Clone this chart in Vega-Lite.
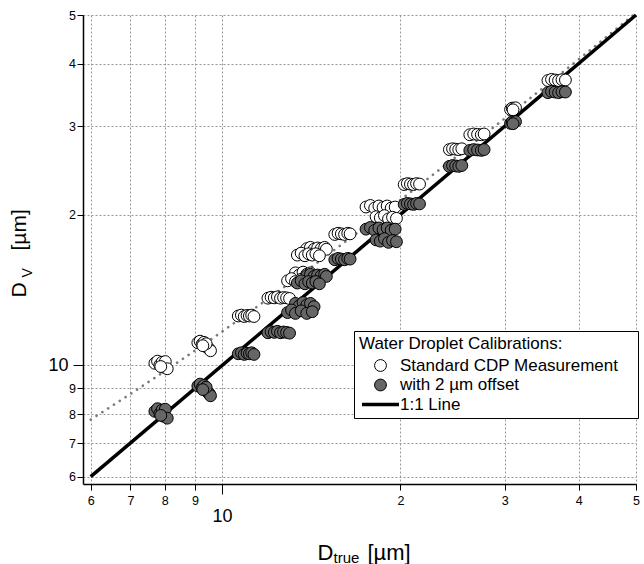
{
  "$schema": "https://vega.github.io/schema/vega-lite/v6.json",
  "width": 553,
  "height": 469,
  "autosize": {"type": "none"},
  "padding": {"left": 83, "top": 15, "right": 8, "bottom": 80},
  "background": "white",
  "config": {
    "font": "Liberation Sans",
    "view": {"stroke": null},
    "axis": {"titleFontWeight": "normal", "titleColor": "black", "titleFont": "Liberation Sans", "labelFont": "Liberation Sans", "labelColor": "black"},
    "legend": {
      "orient": "none", "legendX": 271, "legendY": 316,
      "titleFontSize": 17, "titleFontWeight": "normal", "titleColor": "black", "titleFont": "Liberation Sans", "titlePadding": 4, "titleLimit": 400,
      "labelFontSize": 17, "labelColor": "black", "labelFont": "Liberation Sans", "labelOffset": 11, "labelLimit": 400,
      "strokeColor": "black", "fillColor": "white", "padding": 5, "rowPadding": 1.5,
      "symbolSize": 140, "symbolOffset": 13
    }
  },
  "datasets": {
    "pts": [
      {"series": "Standard CDP Measurement", "x": 7.70, "y": 10.10},
      {"series": "Standard CDP Measurement", "x": 7.78, "y": 10.20},
      {"series": "Standard CDP Measurement", "x": 7.85, "y": 10.02},
      {"series": "Standard CDP Measurement", "x": 7.92, "y": 10.15},
      {"series": "Standard CDP Measurement", "x": 7.97, "y": 9.92},
      {"series": "Standard CDP Measurement", "x": 8.02, "y": 10.18},
      {"series": "Standard CDP Measurement", "x": 8.08, "y": 9.85},
      {"series": "Standard CDP Measurement", "x": 7.88, "y": 9.95},
      {"series": "Standard CDP Measurement", "x": 9.10, "y": 11.10},
      {"series": "Standard CDP Measurement", "x": 9.18, "y": 11.18},
      {"series": "Standard CDP Measurement", "x": 9.25, "y": 11.02},
      {"series": "Standard CDP Measurement", "x": 9.32, "y": 11.12},
      {"series": "Standard CDP Measurement", "x": 9.38, "y": 10.92},
      {"series": "Standard CDP Measurement", "x": 9.45, "y": 10.85},
      {"series": "Standard CDP Measurement", "x": 9.52, "y": 10.78},
      {"series": "Standard CDP Measurement", "x": 9.56, "y": 10.70},
      {"series": "Standard CDP Measurement", "x": 9.40, "y": 11.05},
      {"series": "Standard CDP Measurement", "x": 9.28, "y": 10.95},
      {"series": "Standard CDP Measurement", "x": 10.65, "y": 12.55},
      {"series": "Standard CDP Measurement", "x": 10.78, "y": 12.60},
      {"series": "Standard CDP Measurement", "x": 10.90, "y": 12.52},
      {"series": "Standard CDP Measurement", "x": 11.02, "y": 12.58},
      {"series": "Standard CDP Measurement", "x": 11.12, "y": 12.55},
      {"series": "Standard CDP Measurement", "x": 11.22, "y": 12.60},
      {"series": "Standard CDP Measurement", "x": 11.32, "y": 12.52},
      {"series": "Standard CDP Measurement", "x": 11.95, "y": 13.62},
      {"series": "Standard CDP Measurement", "x": 12.10, "y": 13.68},
      {"series": "Standard CDP Measurement", "x": 12.25, "y": 13.64},
      {"series": "Standard CDP Measurement", "x": 12.40, "y": 13.70},
      {"series": "Standard CDP Measurement", "x": 12.55, "y": 13.62},
      {"series": "Standard CDP Measurement", "x": 12.70, "y": 13.66},
      {"series": "Standard CDP Measurement", "x": 12.85, "y": 13.64},
      {"series": "Standard CDP Measurement", "x": 13.00, "y": 13.60},
      {"series": "Standard CDP Measurement", "x": 13.9, "y": 17.1},
      {"series": "Standard CDP Measurement", "x": 14.1, "y": 17.2},
      {"series": "Standard CDP Measurement", "x": 14.3, "y": 17.05},
      {"series": "Standard CDP Measurement", "x": 14.5, "y": 17.15},
      {"series": "Standard CDP Measurement", "x": 14.7, "y": 17.1},
      {"series": "Standard CDP Measurement", "x": 14.9, "y": 17.2},
      {"series": "Standard CDP Measurement", "x": 15.0, "y": 17.05},
      {"series": "Standard CDP Measurement", "x": 13.4, "y": 16.6},
      {"series": "Standard CDP Measurement", "x": 13.6, "y": 16.75},
      {"series": "Standard CDP Measurement", "x": 13.8, "y": 16.55},
      {"series": "Standard CDP Measurement", "x": 14.0, "y": 16.7},
      {"series": "Standard CDP Measurement", "x": 14.2, "y": 16.6},
      {"series": "Standard CDP Measurement", "x": 14.4, "y": 16.7},
      {"series": "Standard CDP Measurement", "x": 14.6, "y": 16.55},
      {"series": "Standard CDP Measurement", "x": 13.3, "y": 15.3},
      {"series": "Standard CDP Measurement", "x": 13.5, "y": 15.15},
      {"series": "Standard CDP Measurement", "x": 13.7, "y": 15.35},
      {"series": "Standard CDP Measurement", "x": 13.9, "y": 15.2},
      {"series": "Standard CDP Measurement", "x": 14.1, "y": 15.3},
      {"series": "Standard CDP Measurement", "x": 14.3, "y": 15.1},
      {"series": "Standard CDP Measurement", "x": 12.9, "y": 14.75},
      {"series": "Standard CDP Measurement", "x": 13.1, "y": 14.9},
      {"series": "Standard CDP Measurement", "x": 13.3, "y": 14.7},
      {"series": "Standard CDP Measurement", "x": 13.6, "y": 14.85},
      {"series": "Standard CDP Measurement", "x": 13.9, "y": 14.7},
      {"series": "Standard CDP Measurement", "x": 14.2, "y": 14.8},
      {"series": "Standard CDP Measurement", "x": 15.5, "y": 18.25},
      {"series": "Standard CDP Measurement", "x": 15.7, "y": 18.35},
      {"series": "Standard CDP Measurement", "x": 15.9, "y": 18.3},
      {"series": "Standard CDP Measurement", "x": 16.1, "y": 18.25},
      {"series": "Standard CDP Measurement", "x": 16.3, "y": 18.35},
      {"series": "Standard CDP Measurement", "x": 16.45, "y": 18.3},
      {"series": "Standard CDP Measurement", "x": 17.5, "y": 20.7},
      {"series": "Standard CDP Measurement", "x": 17.8, "y": 20.85},
      {"series": "Standard CDP Measurement", "x": 18.1, "y": 20.6},
      {"series": "Standard CDP Measurement", "x": 18.4, "y": 20.8},
      {"series": "Standard CDP Measurement", "x": 18.7, "y": 20.65},
      {"series": "Standard CDP Measurement", "x": 19.0, "y": 20.8},
      {"series": "Standard CDP Measurement", "x": 19.3, "y": 20.6},
      {"series": "Standard CDP Measurement", "x": 19.6, "y": 20.7},
      {"series": "Standard CDP Measurement", "x": 18.2, "y": 19.8},
      {"series": "Standard CDP Measurement", "x": 18.5, "y": 19.7},
      {"series": "Standard CDP Measurement", "x": 18.8, "y": 19.9},
      {"series": "Standard CDP Measurement", "x": 19.1, "y": 19.6},
      {"series": "Standard CDP Measurement", "x": 19.4, "y": 19.75},
      {"series": "Standard CDP Measurement", "x": 19.7, "y": 19.65},
      {"series": "Standard CDP Measurement", "x": 20.3, "y": 22.95},
      {"series": "Standard CDP Measurement", "x": 20.55, "y": 23.05},
      {"series": "Standard CDP Measurement", "x": 20.8, "y": 23.0},
      {"series": "Standard CDP Measurement", "x": 21.05, "y": 22.95},
      {"series": "Standard CDP Measurement", "x": 21.3, "y": 23.05},
      {"series": "Standard CDP Measurement", "x": 21.55, "y": 23.0},
      {"series": "Standard CDP Measurement", "x": 24.2, "y": 26.95},
      {"series": "Standard CDP Measurement", "x": 24.5, "y": 27.05},
      {"series": "Standard CDP Measurement", "x": 24.8, "y": 27.0},
      {"series": "Standard CDP Measurement", "x": 25.1, "y": 26.95},
      {"series": "Standard CDP Measurement", "x": 25.4, "y": 27.05},
      {"series": "Standard CDP Measurement", "x": 26.2, "y": 28.85},
      {"series": "Standard CDP Measurement", "x": 26.6, "y": 28.95},
      {"series": "Standard CDP Measurement", "x": 27.0, "y": 28.9},
      {"series": "Standard CDP Measurement", "x": 27.4, "y": 28.85},
      {"series": "Standard CDP Measurement", "x": 27.7, "y": 28.95},
      {"series": "Standard CDP Measurement", "x": 30.7, "y": 32.4},
      {"series": "Standard CDP Measurement", "x": 30.9, "y": 32.6},
      {"series": "Standard CDP Measurement", "x": 31.1, "y": 32.5},
      {"series": "Standard CDP Measurement", "x": 31.3, "y": 32.65},
      {"series": "Standard CDP Measurement", "x": 31.0, "y": 32.35},
      {"series": "Standard CDP Measurement", "x": 35.5, "y": 37.0},
      {"series": "Standard CDP Measurement", "x": 36.0, "y": 37.2},
      {"series": "Standard CDP Measurement", "x": 36.5, "y": 37.1},
      {"series": "Standard CDP Measurement", "x": 37.0, "y": 37.0},
      {"series": "Standard CDP Measurement", "x": 37.5, "y": 37.15},
      {"series": "Standard CDP Measurement", "x": 38.0, "y": 37.1},
      {"series": "with 2 µm offset", "x": 7.70, "y": 8.10},
      {"series": "with 2 µm offset", "x": 7.78, "y": 8.20},
      {"series": "with 2 µm offset", "x": 7.85, "y": 8.02},
      {"series": "with 2 µm offset", "x": 7.92, "y": 8.15},
      {"series": "with 2 µm offset", "x": 7.97, "y": 7.92},
      {"series": "with 2 µm offset", "x": 8.02, "y": 8.18},
      {"series": "with 2 µm offset", "x": 8.08, "y": 7.85},
      {"series": "with 2 µm offset", "x": 7.88, "y": 7.95},
      {"series": "with 2 µm offset", "x": 9.10, "y": 9.10},
      {"series": "with 2 µm offset", "x": 9.18, "y": 9.18},
      {"series": "with 2 µm offset", "x": 9.25, "y": 9.02},
      {"series": "with 2 µm offset", "x": 9.32, "y": 9.12},
      {"series": "with 2 µm offset", "x": 9.38, "y": 8.92},
      {"series": "with 2 µm offset", "x": 9.45, "y": 8.85},
      {"series": "with 2 µm offset", "x": 9.52, "y": 8.78},
      {"series": "with 2 µm offset", "x": 9.56, "y": 8.70},
      {"series": "with 2 µm offset", "x": 9.40, "y": 9.05},
      {"series": "with 2 µm offset", "x": 9.28, "y": 8.95},
      {"series": "with 2 µm offset", "x": 10.65, "y": 10.55},
      {"series": "with 2 µm offset", "x": 10.78, "y": 10.60},
      {"series": "with 2 µm offset", "x": 10.90, "y": 10.52},
      {"series": "with 2 µm offset", "x": 11.02, "y": 10.58},
      {"series": "with 2 µm offset", "x": 11.12, "y": 10.55},
      {"series": "with 2 µm offset", "x": 11.22, "y": 10.60},
      {"series": "with 2 µm offset", "x": 11.32, "y": 10.52},
      {"series": "with 2 µm offset", "x": 11.95, "y": 11.62},
      {"series": "with 2 µm offset", "x": 12.10, "y": 11.68},
      {"series": "with 2 µm offset", "x": 12.25, "y": 11.64},
      {"series": "with 2 µm offset", "x": 12.40, "y": 11.70},
      {"series": "with 2 µm offset", "x": 12.55, "y": 11.62},
      {"series": "with 2 µm offset", "x": 12.70, "y": 11.66},
      {"series": "with 2 µm offset", "x": 12.85, "y": 11.64},
      {"series": "with 2 µm offset", "x": 13.00, "y": 11.60},
      {"series": "with 2 µm offset", "x": 13.9, "y": 15.1},
      {"series": "with 2 µm offset", "x": 14.1, "y": 15.2},
      {"series": "with 2 µm offset", "x": 14.3, "y": 15.05},
      {"series": "with 2 µm offset", "x": 14.5, "y": 15.15},
      {"series": "with 2 µm offset", "x": 14.7, "y": 15.1},
      {"series": "with 2 µm offset", "x": 14.9, "y": 15.2},
      {"series": "with 2 µm offset", "x": 15.0, "y": 15.05},
      {"series": "with 2 µm offset", "x": 13.4, "y": 14.6},
      {"series": "with 2 µm offset", "x": 13.6, "y": 14.75},
      {"series": "with 2 µm offset", "x": 13.8, "y": 14.55},
      {"series": "with 2 µm offset", "x": 14.0, "y": 14.7},
      {"series": "with 2 µm offset", "x": 14.2, "y": 14.6},
      {"series": "with 2 µm offset", "x": 14.4, "y": 14.7},
      {"series": "with 2 µm offset", "x": 14.6, "y": 14.55},
      {"series": "with 2 µm offset", "x": 13.3, "y": 13.3},
      {"series": "with 2 µm offset", "x": 13.5, "y": 13.15},
      {"series": "with 2 µm offset", "x": 13.7, "y": 13.35},
      {"series": "with 2 µm offset", "x": 13.9, "y": 13.2},
      {"series": "with 2 µm offset", "x": 14.1, "y": 13.3},
      {"series": "with 2 µm offset", "x": 14.3, "y": 13.1},
      {"series": "with 2 µm offset", "x": 12.9, "y": 12.75},
      {"series": "with 2 µm offset", "x": 13.1, "y": 12.9},
      {"series": "with 2 µm offset", "x": 13.3, "y": 12.7},
      {"series": "with 2 µm offset", "x": 13.6, "y": 12.85},
      {"series": "with 2 µm offset", "x": 13.9, "y": 12.7},
      {"series": "with 2 µm offset", "x": 14.2, "y": 12.8},
      {"series": "with 2 µm offset", "x": 15.5, "y": 16.25},
      {"series": "with 2 µm offset", "x": 15.7, "y": 16.35},
      {"series": "with 2 µm offset", "x": 15.9, "y": 16.3},
      {"series": "with 2 µm offset", "x": 16.1, "y": 16.25},
      {"series": "with 2 µm offset", "x": 16.3, "y": 16.35},
      {"series": "with 2 µm offset", "x": 16.45, "y": 16.3},
      {"series": "with 2 µm offset", "x": 17.5, "y": 18.7},
      {"series": "with 2 µm offset", "x": 17.8, "y": 18.85},
      {"series": "with 2 µm offset", "x": 18.1, "y": 18.6},
      {"series": "with 2 µm offset", "x": 18.4, "y": 18.8},
      {"series": "with 2 µm offset", "x": 18.7, "y": 18.65},
      {"series": "with 2 µm offset", "x": 19.0, "y": 18.8},
      {"series": "with 2 µm offset", "x": 19.3, "y": 18.6},
      {"series": "with 2 µm offset", "x": 19.6, "y": 18.7},
      {"series": "with 2 µm offset", "x": 18.2, "y": 17.8},
      {"series": "with 2 µm offset", "x": 18.5, "y": 17.7},
      {"series": "with 2 µm offset", "x": 18.8, "y": 17.9},
      {"series": "with 2 µm offset", "x": 19.1, "y": 17.6},
      {"series": "with 2 µm offset", "x": 19.4, "y": 17.75},
      {"series": "with 2 µm offset", "x": 19.7, "y": 17.65},
      {"series": "with 2 µm offset", "x": 20.3, "y": 20.95},
      {"series": "with 2 µm offset", "x": 20.55, "y": 21.05},
      {"series": "with 2 µm offset", "x": 20.8, "y": 21.0},
      {"series": "with 2 µm offset", "x": 21.05, "y": 20.95},
      {"series": "with 2 µm offset", "x": 21.3, "y": 21.05},
      {"series": "with 2 µm offset", "x": 21.55, "y": 21.0},
      {"series": "with 2 µm offset", "x": 24.2, "y": 24.95},
      {"series": "with 2 µm offset", "x": 24.5, "y": 25.05},
      {"series": "with 2 µm offset", "x": 24.8, "y": 25.0},
      {"series": "with 2 µm offset", "x": 25.1, "y": 24.95},
      {"series": "with 2 µm offset", "x": 25.4, "y": 25.05},
      {"series": "with 2 µm offset", "x": 26.2, "y": 26.85},
      {"series": "with 2 µm offset", "x": 26.6, "y": 26.95},
      {"series": "with 2 µm offset", "x": 27.0, "y": 26.9},
      {"series": "with 2 µm offset", "x": 27.4, "y": 26.85},
      {"series": "with 2 µm offset", "x": 27.7, "y": 26.95},
      {"series": "with 2 µm offset", "x": 30.7, "y": 30.4},
      {"series": "with 2 µm offset", "x": 30.9, "y": 30.6},
      {"series": "with 2 µm offset", "x": 31.1, "y": 30.5},
      {"series": "with 2 µm offset", "x": 31.3, "y": 30.65},
      {"series": "with 2 µm offset", "x": 31.0, "y": 30.35},
      {"series": "with 2 µm offset", "x": 35.5, "y": 35.0},
      {"series": "with 2 µm offset", "x": 36.0, "y": 35.2},
      {"series": "with 2 µm offset", "x": 36.5, "y": 35.1},
      {"series": "with 2 µm offset", "x": 37.0, "y": 35.0},
      {"series": "with 2 µm offset", "x": 37.5, "y": 35.15},
      {"series": "with 2 µm offset", "x": 38.0, "y": 35.1}
    ],
    "fit": [
      {"x": 6, "y": 7.8}, {"x": 7, "y": 8.77}, {"x": 8, "y": 9.74}, {"x": 9, "y": 10.71},
      {"x": 10, "y": 11.68}, {"x": 12, "y": 13.62}, {"x": 14, "y": 15.56}, {"x": 17, "y": 18.47},
      {"x": 20, "y": 21.38}, {"x": 25, "y": 26.23}, {"x": 30, "y": 31.08}, {"x": 35, "y": 35.93},
      {"x": 40, "y": 40.78}, {"x": 45, "y": 45.63}, {"x": 49.5, "y": 50.0}
    ],
    "one": [
      {"series": "1:1 Line", "x": 6, "y": 6},
      {"series": "1:1 Line", "x": 50, "y": 50}
    ]
  },
  "resolve": {"axis": {"x": "independent", "y": "independent"}},
  "layer": [
    {
      "data": {"name": "fit"},
      "mark": {"type": "line", "stroke": "#7a7a7a", "strokeWidth": 2.6, "strokeCap": "round", "strokeDash": [0.1, 6.8]},
      "encoding": {
        "x": {"field": "x", "type": "quantitative",
          "scale": {"type": "log", "domain": [5.823, 50], "nice": false, "zero": false},
          "axis": {"orient": "bottom", "title": "D", "titleFontSize": 22, "titleX": 234, "titleY": 75, "titleAlign": "left", "titleBaseline": "alphabetic",
            "values": [6, 7, 8, 9, 10, 20, 30, 40, 50],
            "labelExpr": "datum.value >= 20 ? format(datum.value / 10, 'd') : format(datum.value, 'd')",
            "labelFontSize": {"condition": {"test": "datum.value == 10", "value": 18}, "value": 12.5},
            "labelPadding": {"condition": {"test": "datum.value == 10", "value": 13}, "value": 4},
            "tickSize": {"condition": {"test": "datum.value == 10", "value": 10}, "value": 6},
            "labelFlush": false, "labelOverlap": false, "labelBound": false,
            "tickColor": "black", "tickWidth": 1, "domainColor": "black", "domainWidth": 1.5,
            "grid": true, "gridColor": "#8c8c8c", "gridDash": [2, 2], "gridWidth": 0.9}},
        "y": {"field": "y", "type": "quantitative",
          "scale": {"type": "log", "domain": [5.802, 50], "nice": false, "zero": false},
          "axis": {"orient": "left", "title": "D", "titleFontSize": 21, "titleAngle": 270, "titleX": -57.5, "titleY": 282, "titleAlign": "left", "titleBaseline": "alphabetic",
            "values": [6, 7, 8, 9, 10, 20, 30, 40, 50],
            "labelExpr": "datum.value >= 20 ? format(datum.value / 10, 'd') : format(datum.value, 'd')",
            "labelFontSize": {"condition": {"test": "datum.value == 10", "value": 18}, "value": 12.5},
            "labelPadding": {"condition": {"test": "datum.value == 10", "value": 5}, "value": 1.5},
            "tickSize": {"condition": {"test": "datum.value == 10", "value": 10}, "value": 6},
            "labelFlush": false, "labelOverlap": false, "labelBound": false,
            "tickColor": "black", "tickWidth": 1, "domainColor": "black", "domainWidth": 1.5,
            "grid": true, "gridColor": "#8c8c8c", "gridDash": [2, 2], "gridWidth": 0.9}}
      }
    },
    {
      "data": {"name": "one"},
      "mark": {"type": "line", "strokeWidth": 3.5, "stroke": "black"},
      "encoding": {
        "x": {"field": "x", "type": "quantitative",
          "scale": {"type": "log", "domain": [5.823, 50], "nice": false, "zero": false},
          "axis": {"orient": "bottom", "title": "true", "titleFontSize": 15, "titleX": 250, "titleY": 78, "titleAlign": "left", "titleBaseline": "alphabetic",
            "domain": false, "ticks": false, "labels": false, "grid": false}},
        "y": {"field": "y", "type": "quantitative",
          "scale": {"type": "log", "domain": [5.802, 50], "nice": false, "zero": false},
          "axis": {"orient": "left", "title": "V", "titleFontSize": 14, "titleAngle": 270, "titleX": -52, "titleY": 262, "titleAlign": "left", "titleBaseline": "alphabetic",
            "domain": false, "ticks": false, "labels": false, "grid": false}}
      }
    },
    {
      "data": {"name": "pts"},
      "mark": {"type": "point", "filled": true, "size": 140, "stroke": "black", "strokeWidth": 1, "opacity": 1},
      "encoding": {
        "x": {"field": "x", "type": "quantitative",
          "scale": {"type": "log", "domain": [5.823, 50], "nice": false, "zero": false},
          "axis": {"orient": "bottom", "title": "[µm]", "titleFontSize": 22, "titleX": 284, "titleY": 75, "titleAlign": "left", "titleBaseline": "alphabetic",
            "domain": false, "ticks": false, "labels": false, "grid": false}},
        "y": {"field": "y", "type": "quantitative",
          "scale": {"type": "log", "domain": [5.802, 50], "nice": false, "zero": false},
          "axis": {"orient": "left", "title": "[µm]", "titleFontSize": 21, "titleAngle": 270, "titleX": -57.5, "titleY": 235, "titleAlign": "left", "titleBaseline": "alphabetic",
            "domain": false, "ticks": false, "labels": false, "grid": false}},
        "color": {"field": "series", "type": "nominal",
          "scale": {"domain": ["Standard CDP Measurement", "with 2 µm offset", "1:1 Line"], "range": ["white", "#666666", "black"]},
          "legend": {
            "title": "Water Droplet Calibrations:",
            "labelExpr": "datum.label == 'Standard CDP Measurement' ? datum.label + '\u00a0\u00a0\u00a0\u200b' : datum.label",
            "encoding": {
              "symbols": {
                "shape": {"value": {"expr": "datum.value == '1:1 Line' ? 'stroke' : 'circle'"}},
                "size": {"value": {"expr": "datum.value == '1:1 Line' ? 1369 : 140"}},
                "stroke": {"value": "black"},
                "strokeWidth": {"value": {"expr": "datum.value == '1:1 Line' ? 3.5 : 1"}},
                "opacity": {"value": 1}
              }
            }
          }}
      }
    }
  ]
}
